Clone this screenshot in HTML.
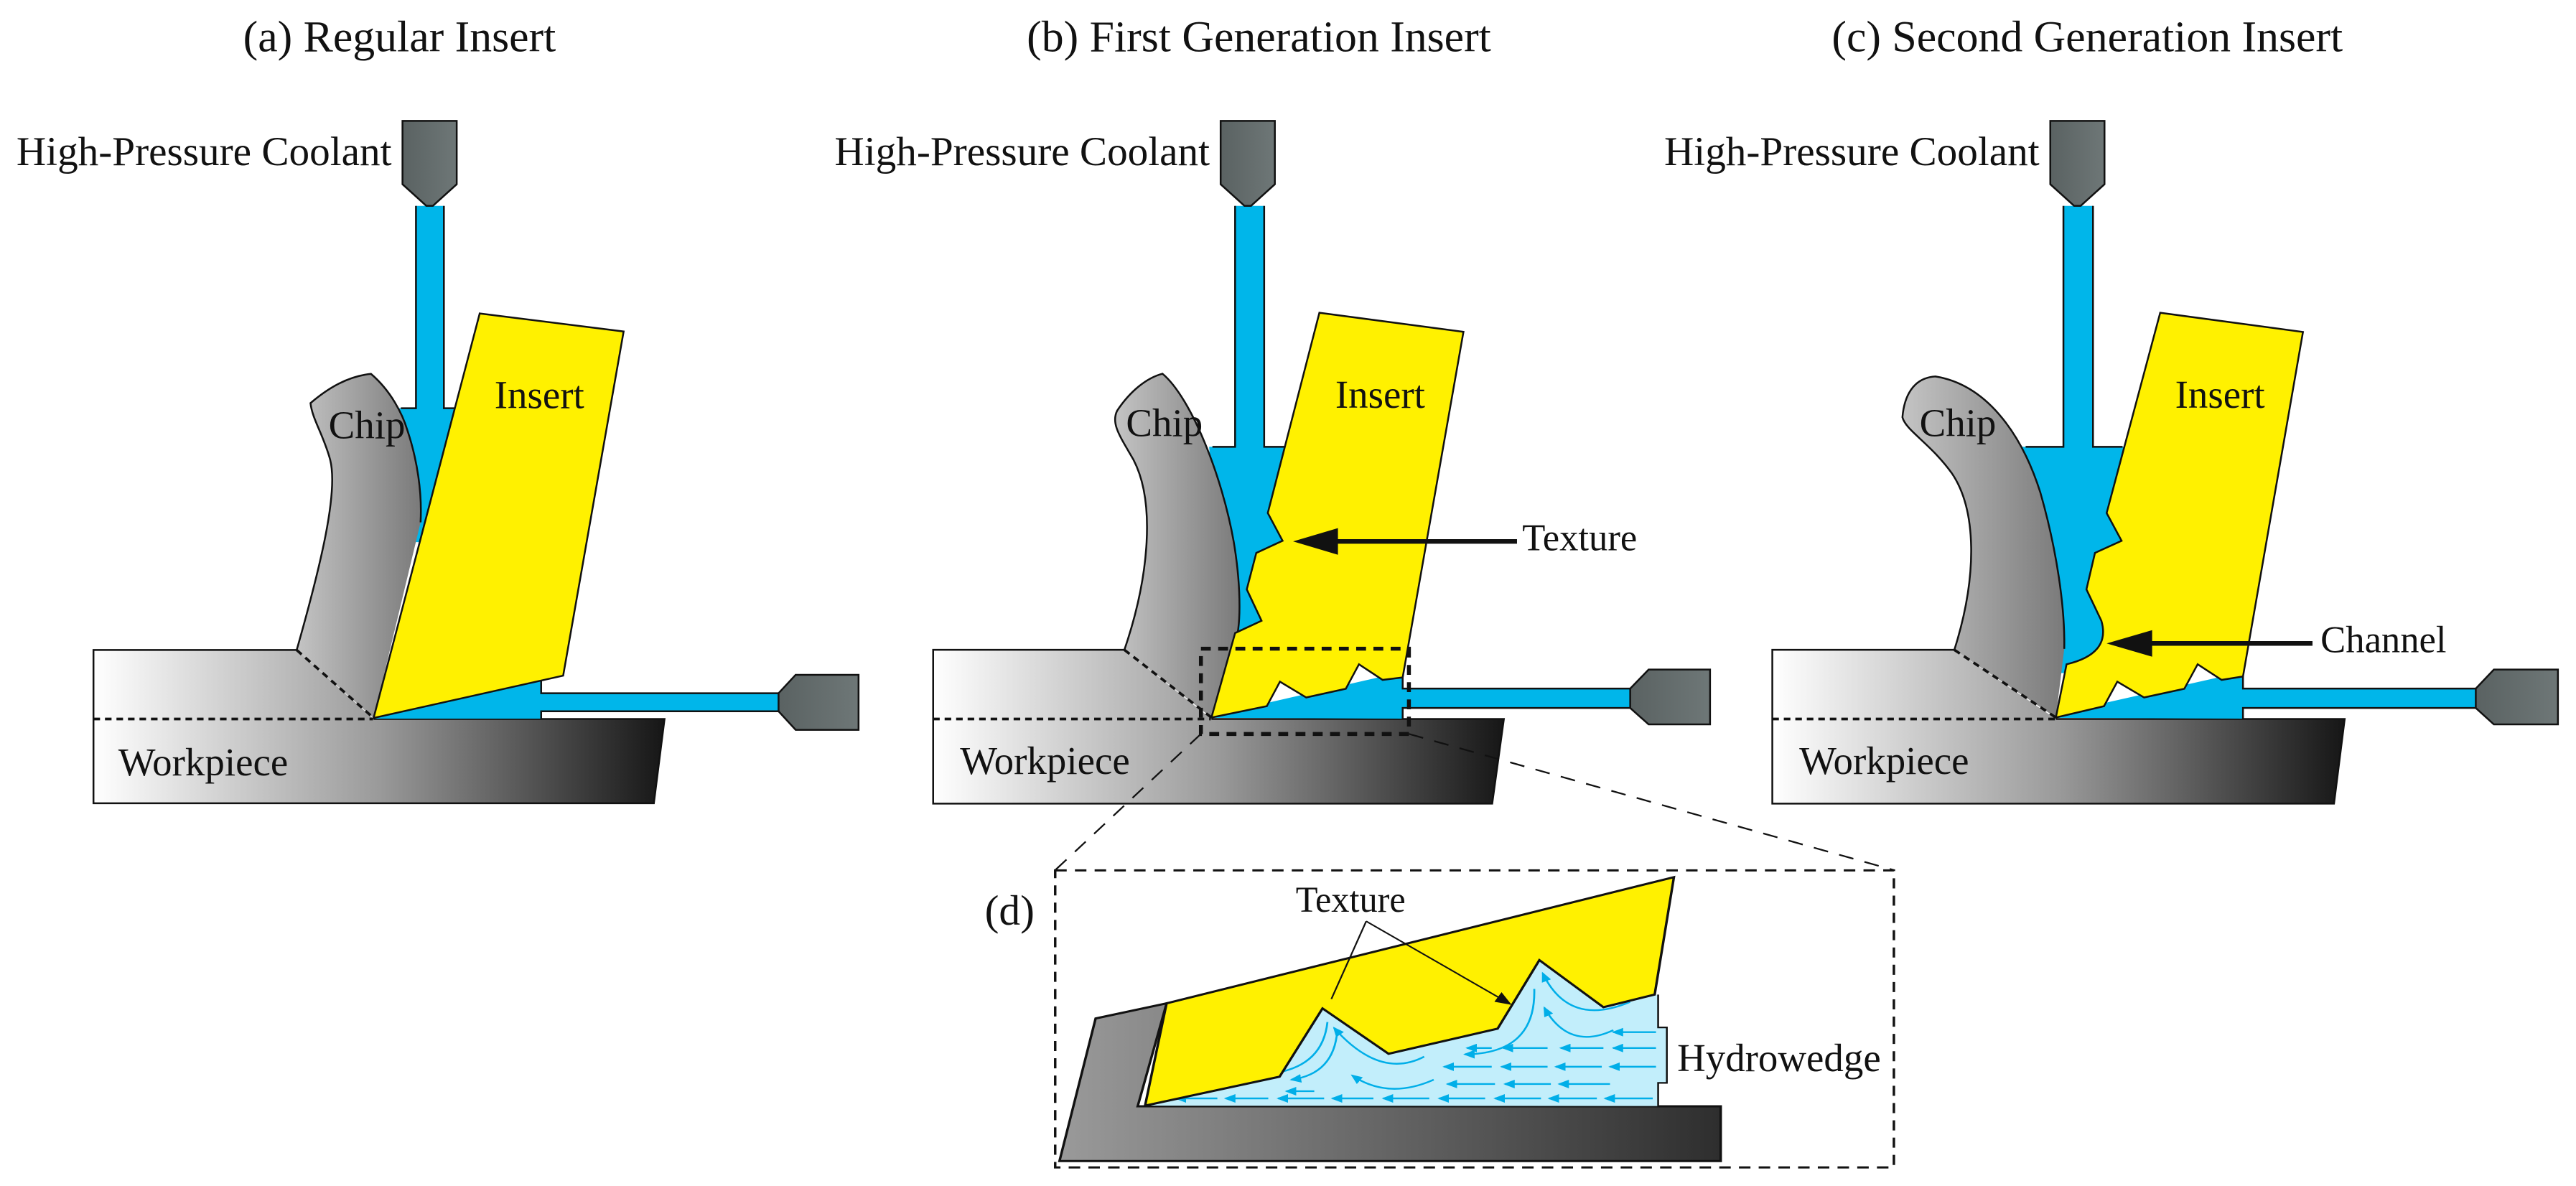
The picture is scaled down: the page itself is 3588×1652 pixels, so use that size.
<!DOCTYPE html>
<html><head><meta charset="utf-8"><style>
html,body{margin:0;padding:0;background:#fff;}
svg{display:block;}
text{font-family:"Liberation Serif","DejaVu Serif",serif;fill:#111;}
</style></head><body>
<svg width="3588" height="1652" viewBox="0 0 1568 722" preserveAspectRatio="none" xmlns="http://www.w3.org/2000/svg">
<defs>
<linearGradient id="wp" x1="0" y1="0" x2="1" y2="0"><stop offset="0" stop-color="#ffffff"/><stop offset="0.5" stop-color="#9a9a9a"/><stop offset="1" stop-color="#161616"/></linearGradient>
<linearGradient id="chip" x1="0" y1="0" x2="1" y2="0"><stop offset="0" stop-color="#c4c4c4"/><stop offset="1" stop-color="#7a7a7a"/></linearGradient>
<linearGradient id="noz" x1="0" y1="0" x2="1" y2="0"><stop offset="0" stop-color="#5a6262"/><stop offset="1" stop-color="#6e7777"/></linearGradient>
<linearGradient id="gd" x1="0" y1="0" x2="1" y2="0"><stop offset="0" stop-color="#9a9a9a"/><stop offset="1" stop-color="#2e2e2e"/></linearGradient>
<marker id="ah" markerWidth="10" markerHeight="8" refX="9" refY="4" orient="auto" markerUnits="userSpaceOnUse"><path d="M0,0 L10,4 L0,8 Z" fill="#111"/></marker>
<marker id="bh" markerWidth="7" markerHeight="6" refX="6" refY="3" orient="auto" markerUnits="userSpaceOnUse"><path d="M0,0 L7,3 L0,6 Z" fill="#00aee8"/></marker>
</defs>

<text x="148" y="31.3" font-size="27">(a) Regular Insert</text>
<text x="625" y="31.3" font-size="27">(b) First Generation Insert</text>
<text x="1115" y="31.3" font-size="27">(c) Second Generation Insert</text>
<text x="10" y="100.5" font-size="25">High-Pressure Coolant</text>
<text x="508" y="100.5" font-size="25">High-Pressure Coolant</text>
<text x="1013" y="100.5" font-size="25">High-Pressure Coolant</text>

<g stroke="#111" stroke-width="1.1" stroke-linejoin="miter">
<!-- PANEL A -->
<path d="M56.9,395.7 L180.6,395.7 L227.4,437.7 L404.5,437.7 L398,489 L56.9,489 Z" fill="url(#wp)" stroke="none"/>
<path d="M180.6,395.7 L56.9,395.7 L56.9,489 L398,489 L404.5,437.7 L227.4,437.7" fill="none"/>
<path d="M240,248.5 L253.2,248.5 L253.2,125.3 L270.2,125.3 L270.2,248.5 L282,248.5 L262,330 L245,330 Z" fill="#00b6ea" stroke="none"/>
<path d="M253.2,125.3 V248.5 H244 M270.2,125.3 V248.5 H279" fill="none"/>
<path d="M227.4,437.5 L329.4,414 L329.4,422 L473.9,422 L473.9,433 L329.4,433 L329.4,437.5 Z" fill="#00b6ea" stroke="none"/>
<path d="M329.4,412 V422 H473.9 M473.9,433 H329.4 V437.7" fill="none"/>
<path d="M245,73.6 H278 V112.2 L263.5,125.3 H259.5 L245,112.2 Z" fill="url(#noz)"/>
<path d="M522.6,410.8 V444.3 H484.3 L473.9,433 V422 L484.3,410.8 Z" fill="url(#noz)"/>
<path d="M180.6,395.7 C195,345 206,300 201,280 C197,265 190,255 189,245.4 C200,236 212,229 225.8,227.6 C238,238 245,252 248,262 C254,280 257,300 256,318 L227.4,437.1 Z" fill="url(#chip)" stroke="none"/>
<path d="M180.6,395.7 C195,345 206,300 201,280 C197,265 190,255 189,245.4 C200,236 212,229 225.8,227.6 C238,238 245,252 248,262 C254,280 257,300 256,318" fill="none"/>
<path d="M292,190.8 L379.6,201.8 L342.8,411.3 L227.4,437.1 Z" fill="#fff100"/>
<path d="M56.9,437.7 H227 M180.6,395.7 L227.4,437.1" stroke-dasharray="4 3" stroke-width="1.6" fill="none"/>

<!-- PANEL B -->
<path d="M568,395.6 L684.4,395.6 L737.4,437.7 L915.4,437.7 L908.3,489.2 L568,489.2 Z" fill="url(#wp)" stroke="none"/>
<path d="M684.4,395.6 L568,395.6 L568,489.2 L908.3,489.2 L915.4,437.7 L737.4,437.7" fill="none"/>
<path d="M736,272 L751.8,272 L751.8,125.3 L769.5,125.3 L769.5,272 L784,272 L792,330 L776,392 L745,395 Z" fill="#00b6ea" stroke="none"/>
<path d="M751.8,125.3 V272 H738 M769.5,125.3 V272 H783" fill="none"/>
<path d="M737.4,437 L771,428 L853.8,409 L853.8,419.2 L992.3,419.2 L992.3,431 L853.8,431 L853.8,437.5 Z" fill="#00b6ea" stroke="none"/>
<path d="M853.8,409 V419.2 H992.3 M992.3,431 H853.8 V437.7" fill="none"/>
<path d="M743,73.6 H776 V112.2 L761.5,125.3 H757.5 L743,112.2 Z" fill="url(#noz)"/>
<path d="M1040.9,407.6 V441 H1003.5 L992.3,431 V419.2 L1003.5,407.6 Z" fill="url(#noz)"/>
<path d="M684.4,395.6 C700,350 703,305 690,280 C682,266 676,258 680,250 C688,238 698,230 707.6,227.5 C725,242 744,290 751,330 C756,360 755,385 751.8,390 L737.4,436.8 Z" fill="url(#chip)" stroke="none"/>
<path d="M684.4,395.6 C700,350 703,305 690,280 C682,266 676,258 680,250 C688,238 698,230 707.6,227.5 C725,242 744,290 751,330 C756,360 755,385 751.8,390" fill="none"/>
<path d="M803.1,190.4 L890.8,202 L853.8,412.4 L841.6,413.9 L827.2,404.4 L819.2,419.3 L795.1,424.6 L779.1,415 L771.1,429.9 L737.4,436.8 L751.8,385.4 L767.9,377.9 L758.9,358.8 L764.7,336.6 L780.7,329.2 L771.7,312.3 Z" fill="#fff100"/>
<path d="M568,437.7 H737 M684.4,395.6 L737.4,436.8" stroke-dasharray="4 3" stroke-width="1.6" fill="none"/>
<rect x="731" y="394.9" width="126.6" height="51.9" fill="none" stroke-dasharray="6 4.5" stroke-width="2.4"/>
<path d="M731,446.8 L642.3,529.7 M857.6,446.8 L1152.8,529.7" fill="none" stroke-dasharray="9 7" stroke-width="1"/>
<path d="M923.4,329.6 H812" stroke-width="2.8" fill="none"/>
<path d="M787.1,329.6 L814.4,321.5 L814.4,337.7 Z" fill="#111" stroke="none"/>

<!-- PANEL C -->
<path d="M1078.8,395.6 L1189.6,395.6 L1251.4,437.7 L1427.2,437.7 L1420.7,489.2 L1078.8,489.2 Z" fill="url(#wp)" stroke="none"/>
<path d="M1189.6,395.6 L1078.8,395.6 L1078.8,489.2 L1420.7,489.2 L1427.2,437.7 L1251.4,437.7" fill="none"/>
<path d="M1228,272 L1256,272 L1256,125.3 L1274,125.3 L1274,272 L1294,272 L1302,330 L1288,408 L1250,410 Z" fill="#00b6ea" stroke="none"/>
<path d="M1256,125.3 V272 H1233 M1274,125.3 V272 H1292" fill="none"/>
<path d="M1251.4,437 L1281,428 L1365.3,409 L1365.3,419.2 L1507,419.2 L1507,431 L1365.3,431 L1365.3,437.5 Z" fill="#00b6ea" stroke="none"/>
<path d="M1365.3,409 V419.2 H1507 M1507,431 H1365.3 V437.7" fill="none"/>
<path d="M1248,73.6 H1281 V112.2 L1266.5,125.3 H1262.5 L1248,112.2 Z" fill="url(#noz)"/>
<path d="M1557,407.6 V441 H1518 L1507,431 V419.2 L1518,407.6 Z" fill="url(#noz)"/>
<path d="M1189.6,395.6 C1204,350 1203,310 1188,288 C1175,270 1160,262 1158,254 C1159,242 1164,230 1178.1,229.2 C1208,234 1230,262 1242,300 C1252,335 1257,370 1256.5,395 L1251.4,436.8 Z" fill="url(#chip)" stroke="none"/>
<path d="M1189.6,395.6 C1204,350 1203,310 1188,288 C1175,270 1160,262 1158,254 C1159,242 1164,230 1178.1,229.2 C1208,234 1230,262 1242,300 C1252,335 1257,370 1256.5,395" fill="none"/>
<path d="M1314.9,190.4 L1401.8,202.1 L1365.3,411.8 L1352.3,413.9 L1337.7,404.4 L1329.6,419.3 L1305.1,424.6 L1288.8,415 L1280.7,429.9 L1251.4,436.8 L1257.9,404.4 Q1285,398 1279.1,377.9 L1270,358.8 L1275.2,336.6 L1291.4,329.2 L1282.3,312.3 Z" fill="#fff100"/>
<path d="M1078.8,437.7 H1251 M1189.6,395.6 L1251.4,436.8" stroke-dasharray="4 3" stroke-width="1.6" fill="none"/>
<path d="M1407.6,391.7 H1308" stroke-width="2.8" fill="none"/>
<path d="M1282.3,391.7 L1310,383.6 L1310,399.8 Z" fill="#111" stroke="none"/>

<!-- PANEL D (vertically compressed group) -->
<g transform="matrix(1 0 0 0.877 0 71.45)">
<rect x="642.3" y="522.7" width="510.5" height="206.2" fill="none" stroke-dasharray="7 5" stroke-width="1.5"/>
<path d="M666.9,625.5 L710.1,615 L692.5,686.5 L1047.4,686.5 L1047.4,724.5 L644.9,724.5 Z" fill="url(#gd)" stroke-width="1.5"/>
<path d="M697,686 L778.9,665.9 L805,618.5 L845.2,650 L911.6,632.6 L937,585 L976,617.7 L1009.3,608.9 L1009.3,631.7 L1014.6,631.7 L1014.6,670.2 L1009.3,670.2 L1009.3,686.3 Z" fill="#c2eefb" stroke="none"/>
<path d="M1009.3,608.9 L1009.3,631.7 L1014.6,631.7 L1014.6,670.2 L1009.3,670.2 L1009.3,686.3" fill="none"/>
<g stroke="#00aee8" stroke-width="1.2" fill="none">
<line x1="1008" y1="635" x2="982" y2="635" marker-end="url(#bh)"/>
<line x1="1008" y1="646" x2="982" y2="646" marker-end="url(#bh)"/>
<line x1="976" y1="646" x2="950" y2="646" marker-end="url(#bh)"/>
<line x1="942" y1="646" x2="915" y2="646" marker-end="url(#bh)"/>
<line x1="908" y1="646" x2="893" y2="646" marker-end="url(#bh)"/>
<line x1="1008" y1="659" x2="980" y2="659" marker-end="url(#bh)"/>
<line x1="975" y1="659" x2="947" y2="659" marker-end="url(#bh)"/>
<line x1="942" y1="659" x2="914" y2="659" marker-end="url(#bh)"/>
<line x1="908" y1="659" x2="879" y2="659" marker-end="url(#bh)"/>
<line x1="980" y1="671" x2="949" y2="671" marker-end="url(#bh)"/>
<line x1="944" y1="671" x2="916" y2="671" marker-end="url(#bh)"/>
<line x1="910" y1="671" x2="881" y2="671" marker-end="url(#bh)"/>
<line x1="1006" y1="681" x2="977" y2="681" marker-end="url(#bh)"/>
<line x1="972" y1="681" x2="943" y2="681" marker-end="url(#bh)"/>
<line x1="938" y1="681" x2="910" y2="681" marker-end="url(#bh)"/>
<line x1="904" y1="681" x2="876" y2="681" marker-end="url(#bh)"/>
<line x1="870" y1="681" x2="842" y2="681" marker-end="url(#bh)"/>
<line x1="836" y1="681" x2="811" y2="681" marker-end="url(#bh)"/>
<line x1="806" y1="681" x2="778" y2="681" marker-end="url(#bh)"/>
<line x1="772" y1="681" x2="746" y2="681" marker-end="url(#bh)"/>
<line x1="741" y1="681" x2="716" y2="681" marker-end="url(#bh)"/>
<line x1="800" y1="676" x2="783" y2="676" marker-end="url(#bh)"/>
<path d="M866.9,652 Q840,668 812,632" marker-end="url(#bh)"/>
<path d="M872.7,668 Q845,682 823,665" marker-end="url(#bh)"/>
<path d="M933.9,605 Q935,650 891.6,650.4" marker-end="url(#bh)"/>
<path d="M992.2,614 Q955,632 939,594" marker-end="url(#bh)"/>
<path d="M982,633.6 Q955,648 940,618" marker-end="url(#bh)"/>
<path d="M808,628 Q805,660 772,664" marker-end="url(#bh)"/>
<path d="M814,634 Q812,664 786,668" marker-end="url(#bh)"/>
</g>
<path d="M710.1,615 L1018.9,527.4 L1007.2,608.9 L976,617.7 L937,585 L911.6,632.6 L845.2,650 L805,618.5 L778.9,665.9 L697,686 Z" fill="#fff100" stroke-width="1.5"/>
<path d="M831.6,558 L810.4,612 M831.6,558 L919.3,615.5" fill="none" stroke-width="1" marker-end="url(#ah)"/>
</g>
</g>

<text x="200" y="266.9" font-size="24">Chip</text>
<text x="301" y="248.5" font-size="24">Insert</text>
<text x="72" y="472" font-size="24">Workpiece</text>
<text x="685.4" y="265.6" font-size="24">Chip</text>
<text x="812.8" y="248.3" font-size="24">Insert</text>
<text x="584.4" y="471.2" font-size="24">Workpiece</text>
<text x="926.6" y="335" font-size="23">Texture</text>
<text x="1168.4" y="265.6" font-size="24">Chip</text>
<text x="1324" y="248.3" font-size="24">Insert</text>
<text x="1095.2" y="471.2" font-size="24">Workpiece</text>
<text x="1412.5" y="397" font-size="23">Channel</text>
<text x="599.4" y="563" font-size="26">(d)</text>
<text x="788.7" y="555" font-size="22">Texture</text>
<text x="1020.9" y="652" font-size="24">Hydrowedge</text>
</svg>
</body></html>
